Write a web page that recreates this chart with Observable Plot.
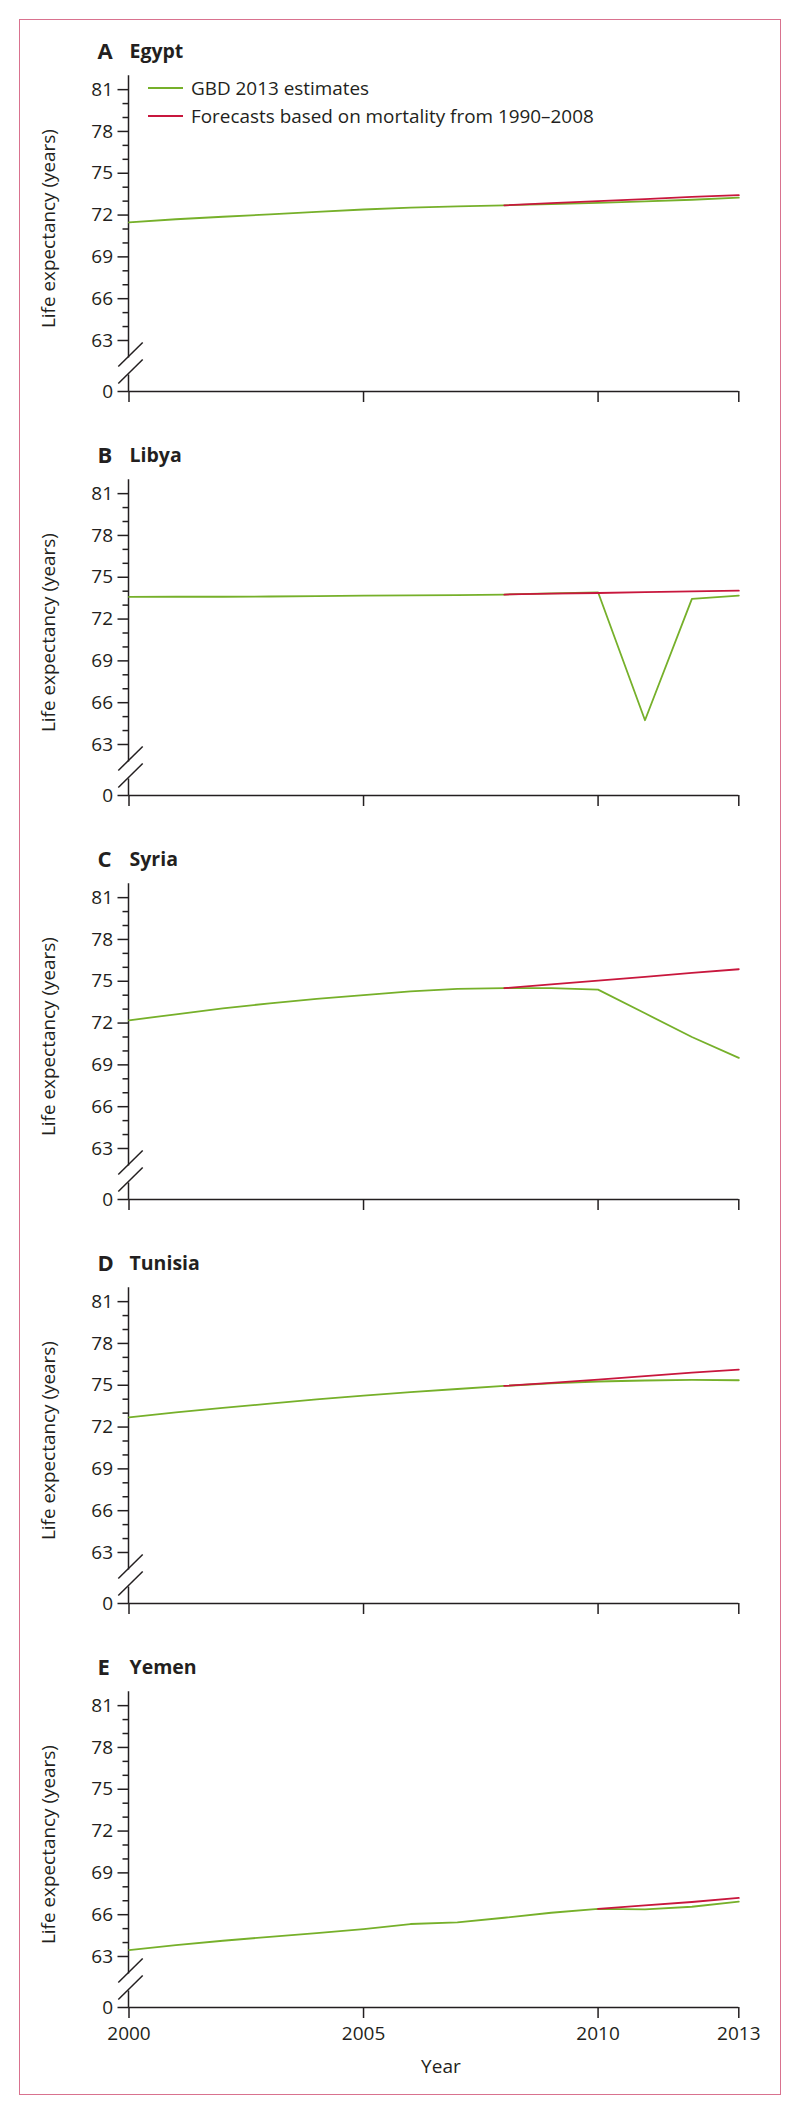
<!DOCTYPE html>
<html>
<head>
<meta charset="utf-8">
<script src="https://cdn.jsdelivr.net/npm/d3@7"></script>
<script src="https://cdn.jsdelivr.net/npm/@observablehq/plot@0.6"></script>
<style>
  body { margin: 0; background: #fff; }
  #page { position: relative; width: 800px; height: 2114px; font-family: "Open Sans", sans-serif; color: #231f20; }
  #frame { position: absolute; left: 19px; top: 19px; width: 762px; height: 2076px; box-sizing: border-box; border: 1.5px solid #d9728f; }
  .panel { position: absolute; left: 0; width: 800px; }
  .panel svg { display: block; }
  .legend { position: absolute; left: 148px; font-size: 18.9px; line-height: 28px; }
  .legend div { display: flex; align-items: center; white-space: nowrap; }
  .legend .sw { display: inline-block; width: 35px; height: 2px; margin-right: 8px; }
</style>
</head>
<body>
<div id="page"><div id="frame"></div></div>
<script>
// ---------- data ----------
const years = [2000, 2001, 2002, 2003, 2004, 2005, 2006, 2007, 2008, 2009, 2010, 2011, 2012, 2013];
const panelLetters = ["A", "B", "C", "D", "E"];
const countries = ["Egypt", "Libya", "Syria", "Tunisia", "Yemen"];
const forecastStart = [2008, 2008, 2008, 2008, 2010];

const gbdEgypt   = [71.47, 71.70, 71.88, 72.05, 72.23, 72.40, 72.53, 72.62, 72.70, 72.78, 72.87, 72.98, 73.10, 73.25];
const gbdLibya   = [73.59, 73.60, 73.60, 73.62, 73.65, 73.68, 73.70, 73.72, 73.76, 73.85, 73.92, 64.74, 73.45, 73.68];
const gbdSyria   = [72.20, 72.63, 73.05, 73.42, 73.73, 74.00, 74.27, 74.45, 74.50, 74.50, 74.40, 72.70, 71.00, 69.50];
const gbdTunisia = [72.70, 73.05, 73.38, 73.68, 73.98, 74.26, 74.50, 74.73, 74.95, 75.13, 75.27, 75.34, 75.38, 75.36];
const gbdYemen   = [63.46, 63.82, 64.13, 64.41, 64.68, 64.97, 65.33, 65.45, 65.78, 66.14, 66.41, 66.38, 66.57, 66.93];

const forecastEgypt   = [72.70, 72.86, 73.00, 73.15, 73.30, 73.43];
const forecastLibya   = [73.76, 73.82, 73.87, 73.93, 73.98, 74.04];
const forecastSyria   = [74.50, 74.78, 75.05, 75.32, 75.60, 75.86];
const forecastTunisia = [74.95, 75.17, 75.40, 75.65, 75.90, 76.12];
const forecastYemen   = [66.41, 66.67, 66.91, 67.20];

const yMajorTicks = [0, 63, 66, 69, 72, 75, 78, 81];
const yMinorTicks = [64, 65, 67, 68, 70, 71, 73, 74, 76, 77, 79, 80];
const xTicks = [2000, 2005, 2010, 2013];
const yBreakAt = 63;   // axis is broken between 0 and 63
const yTopValue = 82;
const seriesNames = ["GBD 2013 estimates", "Forecasts based on mortality from 1990\u20132008"];
const yLabel = "Life expectancy (years)";
const xLabel = "Year";

// ---------- styling ----------
const GREEN = "#76b02a";
const RED = "#c8173d";
const INK = "#231f20";

const gbdSeries = [gbdEgypt, gbdLibya, gbdSyria, gbdTunisia, gbdYemen];
const forecastSeries = [forecastEgypt, forecastLibya, forecastSyria, forecastTunisia, forecastYemen];

// scale transform: the 0–63 stretch is compressed into a short broken segment
const breakSpan = 3.66;
const brk = v => v >= yBreakAt ? v : yBreakAt - (yBreakAt - v) * (breakSpan / yBreakAt);

// y axis line with a scale break between 0 and 63
function yAxisWithBreak(index, scales, values, dimensions) {
  const x0 = scales.x(2000);
  const yTop = dimensions.marginTop;
  const y0 = dimensions.height - dimensions.marginBottom;
  const y63 = scales.y(yBreakAt);
  const g = d3.create("svg:g").attr("stroke", INK).attr("stroke-width", 1.5).attr("fill", "none");
  g.append("path").attr("d", `M${x0},${yTop}V${y63 + 17.5}M${x0},${y63 + 34.5}V${y0}`);
  for (const c of [14.5, 31.5]) {
    g.append("line")
      .attr("x1", x0 - 10.2).attr("y1", y63 + c + 12)
      .attr("x2", x0 + 14.2).attr("y2", y63 + c - 12);
  }
  return g.node();
}

const page = document.getElementById("page");
const panelStep = 404;

countries.forEach((country, i) => {
  const isLast = i === countries.length - 1;
  const height = isLast ? 470 : 404;
  const marginTop = 55.2;
  const yBottom = 371;
  const marginBottom = height - yBottom;

  const gbd = years.map((year, k) => ({year, value: gbdSeries[i][k]}));
  const fc = forecastSeries[i].map((value, k) => ({year: forecastStart[i] + k, value}));

  const marks = [
    Plot.ruleY([0], {stroke: INK, strokeWidth: 1.5}),
    yAxisWithBreak,
    Plot.axisY(yMinorTicks, {tickSize: 6, tickFormat: () => "", stroke: INK, strokeWidth: 1.5, label: null}),
    Plot.axisY(yMajorTicks, {tickSize: 11, tickPadding: 5, tickFormat: d => String(d), stroke: INK, strokeWidth: 1.5, label: null, fill: INK}),
    Plot.axisX(xTicks, {tickSize: 11, tickPadding: 8, stroke: INK, strokeWidth: 1.5, label: null, fill: INK,
      tickFormat: isLast ? d => String(d) : () => ""}),
    Plot.line(gbd, {x: "year", y: "value", stroke: GREEN, strokeWidth: 1.8}),
    Plot.line(fc, {x: "year", y: "value", stroke: RED, strokeWidth: 1.8}),
    Plot.text([panelLetters[i]], {text: d => d, frameAnchor: "top-left", textAnchor: "start", lineAnchor: "middle",
      dx: -31.5, dy: -23.5, fontSize: 22, fontWeight: "bold", fill: INK}),
    Plot.text([country], {text: d => d, frameAnchor: "top-left", textAnchor: "start", lineAnchor: "middle",
      dx: 0.5, dy: -23.5, fontSize: 19.5, fontWeight: "bold", fill: INK}),
    Plot.text([yLabel], {text: d => d, frameAnchor: "left", textAnchor: "middle", lineAnchor: "middle", rotate: -90,
      dx: -80, dy: -5, fontSize: 18.9, fill: INK})
  ];
  if (isLast) {
    marks.push(Plot.text([xLabel], {text: d => d, frameAnchor: "bottom", dx: 7, dy: 65, fontSize: 19, fill: INK}));
  }

  const chart = Plot.plot({
    width: 800,
    height,
    marginLeft: 128.5,
    marginRight: 61.7,
    marginTop,
    marginBottom,
    style: {fontFamily: '"Open Sans", sans-serif', fontSize: "19px", color: INK, background: "transparent", overflow: "visible"},
    x: {domain: [2000, 2013]},
    y: {transform: brk, domain: [brk(0), yTopValue]},
    marks
  });

  const div = document.createElement("div");
  div.className = "panel";
  div.style.top = (20 + panelStep * i) + "px";
  div.appendChild(chart);

  if (i === 0) {
    const legend = document.createElement("div");
    legend.className = "legend";
    legend.style.top = "54.3px";
    [GREEN, RED].forEach((color, k) => {
      const row = document.createElement("div");
      const sw = document.createElement("span");
      sw.className = "sw";
      sw.style.background = color;
      row.appendChild(sw);
      row.appendChild(document.createTextNode(seriesNames[k]));
      legend.appendChild(row);
    });
    div.appendChild(legend);
  }
  page.appendChild(div);
});
</script>
</body>
</html>
